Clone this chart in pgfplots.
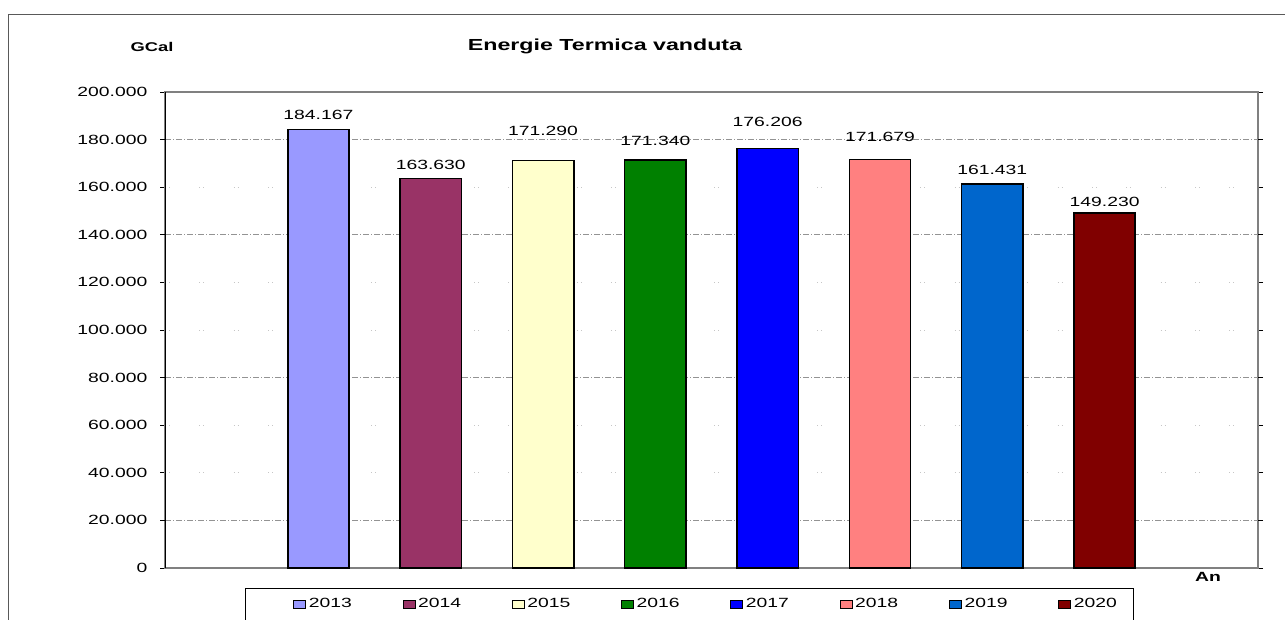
\documentclass[border=0pt]{standalone}
\usepackage{fontspec}
\setmainfont{Liberation Sans}[FakeStretch=1.45]
\usepackage{pgfplots}
\pgfplotsset{compat=1.18}
\definecolor{c13}{HTML}{9999FF}
\definecolor{c14}{HTML}{993366}
\definecolor{c15}{HTML}{FFFFCC}
\definecolor{c16}{HTML}{008000}
\definecolor{c17}{HTML}{0000FF}
\definecolor{c18}{HTML}{FF8080}
\definecolor{c19}{HTML}{0066CC}
\definecolor{c20}{HTML}{800000}
\begin{document}
\begin{tikzpicture}[x=0.75pt,y=0.75pt]
\useasboundingbox (0,0) rectangle (1285,619);
\draw[black!65, line width=0.75pt] (8,-10) -- (8,604) -- (1300,604);
\draw[black, line width=0.75pt] (245,-10) -- (245,31) -- (1133,31) -- (1133,-10);
\node[font=\bfseries\fontsize{12}{14}\selectfont] at (605,573) {Energie Termica vanduta};
\node[font=\bfseries\fontsize{9.5}{12}\selectfont] at (152,572) {GCal};
\node[font=\bfseries\fontsize{10}{12}\selectfont] at (1208,42) {An};
\begin{axis}[
  at={(123.75pt,38.25pt)}, anchor=south west,
  width=819.75pt, height=357pt, scale only axis,
  xmin=-1.366, xmax=8.366, ymin=0, ymax=200000,
  ybar, bar width=46pt, bar shift=0pt,
  xtick=\empty,
  ytick={0,40000,60000,100000,120000,160000,200000},
  extra y ticks={20000,80000,140000,180000},
  scaled y ticks=false,
  /pgf/number format/.cd, fixed, precision=0, 1000 sep={.}, assume math mode=true, /pgfplots/.cd,
  tick align=outside, major tick length=3.75pt,
  ytick style={black, line width=0.75pt},
  yticklabel style={font=\fontsize{10}{12}\selectfont, xshift=-6pt},
  axis line style={draw=gray, line width=1.5pt},
  ymajorgrids,
  major grid style={gray!45, line width=0.6pt, dash pattern=on 0.75pt off 2.25pt on 0.75pt off 22pt},
  extra y tick style={ymajorgrids=true, major grid style={gray!85, line width=0.6pt, dash pattern=on 4.5pt off 1.5pt on 0.75pt off 1.5pt}},
  every node near coord/.style={anchor=center, font=\fontsize{10}{12}\selectfont, text=black},
  legend columns=8,
  legend style={at={(0.1171,-0.0756)}, anchor=west, draw=none, fill=none, inner sep=0pt,
    font=\fontsize{10}{12}\selectfont,
    /tikz/every even column/.append style={column sep=36pt}},
  legend image code/.code={\draw[#1, line width=0.7pt] (0pt,-3pt) rectangle (9pt,3pt);},
]
\addplot[fill=c13, draw=black, line width=1.2pt, nodes near coords, every node near coord/.append style={yshift=11.25pt}] coordinates {(0,184167)};
\addlegendentry{2013}
\addplot[fill=c14, draw=black, line width=1.2pt, nodes near coords, every node near coord/.append style={yshift=10pt}] coordinates {(1,163630)};
\addlegendentry{2014}
\addplot[fill=c15, draw=black, line width=1.2pt, nodes near coords, every node near coord/.append style={yshift=22.3pt}] coordinates {(2,171290)};
\addlegendentry{2015}
\addplot[fill=c16, draw=black, line width=1.2pt, nodes near coords, every node near coord/.append style={yshift=14.25pt}] coordinates {(3,171340)};
\addlegendentry{2016}
\addplot[fill=c17, draw=black, line width=1.2pt, nodes near coords, every node near coord/.append style={yshift=20pt}] coordinates {(4,176206)};
\addlegendentry{2017}
\addplot[fill=c18, draw=black, line width=1.2pt, nodes near coords, every node near coord/.append style={yshift=16.5pt}] coordinates {(5,171679)};
\addlegendentry{2018}
\addplot[fill=c19, draw=black, line width=1.2pt, nodes near coords, every node near coord/.append style={yshift=10.3pt}] coordinates {(6,161431)};
\addlegendentry{2019}
\addplot[fill=c20, draw=black, line width=1.2pt, nodes near coords, every node near coord/.append style={yshift=8.5pt}] coordinates {(7,149230)};
\addlegendentry{2020}
\draw[black, line width=1.2pt] (rel axis cs:0,0) -- (rel axis cs:0,1);
\end{axis}
\end{tikzpicture}
\end{document}
